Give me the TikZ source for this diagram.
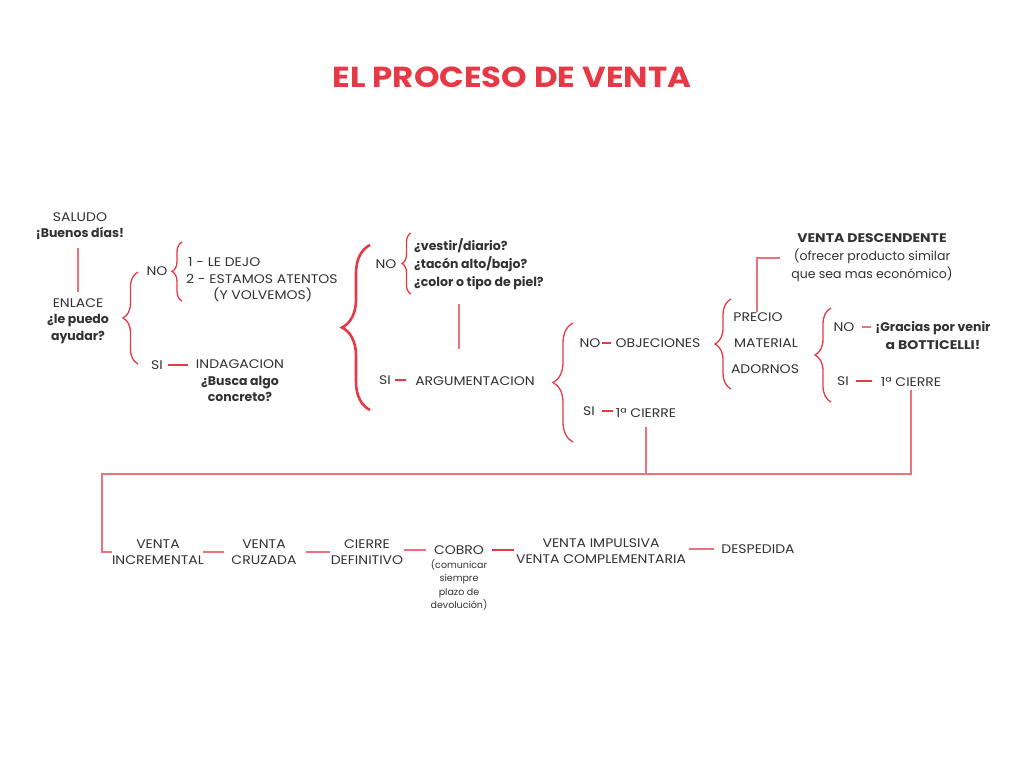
\documentclass[tikz,border=0pt]{standalone}
\usepackage{fontspec}
\setmainfont{Poppins}[FakeStretch=1.12]
\newfontfamily\lc{Poppins}
\usetikzlibrary{decorations.pathreplacing,calc}
\definecolor{vred}{RGB}{230,57,70}
\definecolor{vpink}{RGB}{238,112,124}
\definecolor{txt}{RGB}{50,50,50}
\begin{document}
\begin{tikzpicture}[x=1pt,y=-1pt,
  every node/.style={text=txt,font=\fontsize{12.5}{16.5}\selectfont,inner sep=0pt,align=center},
  bld/.style={font=\fontsize{12.5}{18}\selectfont\lc\bfseries},
  small/.style={font=\fontsize{9.5}{13.3}\selectfont\lc},
  ln/.style={draw=vred,line width=1.1pt},
  lnp/.style={draw=vpink,line width=1.1pt},
  br/.style={draw=vred,line width=1.3pt,decorate,decoration={brace,amplitude=#1,aspect=0.5}},
  br/.default=10,
  bigbr/.style={draw=vred,line width=2.6pt,decorate,decoration={brace,amplitude=#1,aspect=0.5}},
  bigbr/.default=28]
\useasboundingbox (0,0) rectangle (1024,768);

% title
\node[text=vred,font=\fontsize{29}{32}\selectfont\bfseries] (title) at (512,77) {EL PROCESO DE VENTA};

% left part
\node (salud) at (80,226) {SALUDO\\{\lc\bfseries ¡Buenos días!}};
\node (enlace) at (78,321) {ENLACE\\{\lc\bfseries ¿le puedo}\\{\lc\bfseries ayudar?}};
\node (no1) at (157,271) {NO};
\node[anchor=west,align=left] (opts) at (186,280) {\hspace*{2pt}1 - LE DEJO\\2 - ESTAMOS ATENTOS\\\hspace*{27pt}(Y VOLVEMOS)};
\node (si1) at (157,365) {SI};
\node (indag) at (240,381) {INDAGACION\\{\lc\bfseries ¿Busca algo}\\{\lc\bfseries concreto?}};

\draw[lnp,shorten <=8pt,shorten >=6pt] (salud.south -| enlace.north) -- (enlace.north);
\draw[br=15] (138,364) -- (138,272);
\draw[br=10] (182,301) -- (182,242);
\draw[ln,shorten <=5pt,shorten >=8pt] (si1.east) -- (si1.east -| indag.west);

% second part
\draw[bigbr=28] (370,410) -- (370,245);
\node (no2) at (386,264) {NO};
\draw[br=9] (411,294) -- (411,233);
\node[anchor=west,align=left,bld] (qs) at (414,264) {¿vestir/diario?\\¿tacón alto/bajo?\\¿color o tipo de piel?};
\coordinate (qa1) at (459,304);
\coordinate (qa2) at (459,349);
\draw[lnp] (qa1) -- (qa2);
\node (si2) at (385,380) {SI};
\node (arg) at (475,381) {ARGUMENTACION};
\draw[ln,shorten <=4pt,shorten >=9pt] (si2.east) -- (si2.east -| arg.west);

% third part
\draw[br=20] (573,442) -- (573,323);
\node (no3) at (590,343) {NO};
\node (obj) at (658,343) {OBJECIONES};
\draw[ln,shorten <=1pt,shorten >=4pt] (no3.east) -- (obj.west);
\node (si3) at (589,411) {SI};
\node (cierre1) at (646,413) {1ª CIERRE};
\draw[ln,shorten <=7pt,shorten >=3pt] (si3.east) -- (si3.east -| cierre1.west);

% objections
\draw[br=16] (731,389) -- (731,299);
\node (precio) at (758,317) {PRECIO};
\node (material) at (766,343) {MATERIAL};
\node (adornos) at (765,369) {ADORNOS};
\node[font=\fontsize{12.5}{18}\selectfont] (desc) at (872,258) {\textbf{VENTA DESCENDENTE}\\{\lc (ofrecer producto similar}\\{\lc que sea mas económico)}};
\draw[lnp,shorten >=11pt] (precio.north -| 757,0) |- (desc.west);

\draw[br=16] (831,402) -- (831,308);
\node (no4) at (844,327) {NO};
\node[font=\fontsize{12.5}{18}\selectfont\bfseries] (gracias) at (933,336) {{\lc ¡Gracias por venir}\\a BOTTICELLI!};
\draw[lnp,shorten <=7pt,shorten >=4pt] (no4.east) -- (no4.east -| gracias.west);
\node (si4) at (843,381) {SI};
\node (cierre2) at (911,382) {1ª CIERRE};
\draw[ln,shorten <=7pt,shorten >=9pt] (si4.east) -- (si4.east -| cierre2.west);

% bottom row
\node (inc) at (158,552) {VENTA\\INCREMENTAL};
\node (cruz) at (264,552) {VENTA\\CRUZADA};
\node (def) at (367,552) {CIERRE\\DEFINITIVO};
\node (cobro) at (459,550) {COBRO};
\node[small] (nota) at (459,585) {(comunicar\\siempre\\plazo de\\devolución)};
\node (imp) at (601,551) {VENTA IMPULSIVA\\VENTA COMPLEMENTARIA};
\node (desp) at (758,549) {DESPEDIDA};

\coordinate (corner) at (102,474);
\draw[lnp,shorten <=9pt] (cierre1.south) -- (cierre1.south |- corner);
\draw[lnp,shorten <=3pt] (cierre2.south) -- (cierre2.south |- corner) -- (corner) |- (inc.west);

\draw[lnp,shorten <=-1pt,shorten >=7pt] (inc.east) -- (inc.east -| cruz.west);
\draw[lnp,shorten <=9pt,shorten >=1pt] (cruz.east) -- (cruz.east -| def.west);
\draw[lnp,shorten <=1pt,shorten >=8pt] (def.east |- cobro.west) -- (cobro.west);
\draw[ln,shorten <=8pt,shorten >=2pt] (cobro.east) -- (cobro.east -| imp.west);
\draw[lnp,shorten <=3pt,shorten >=7pt] (imp.east |- desp.west) -- (desp.west);
\end{tikzpicture}
\end{document}
